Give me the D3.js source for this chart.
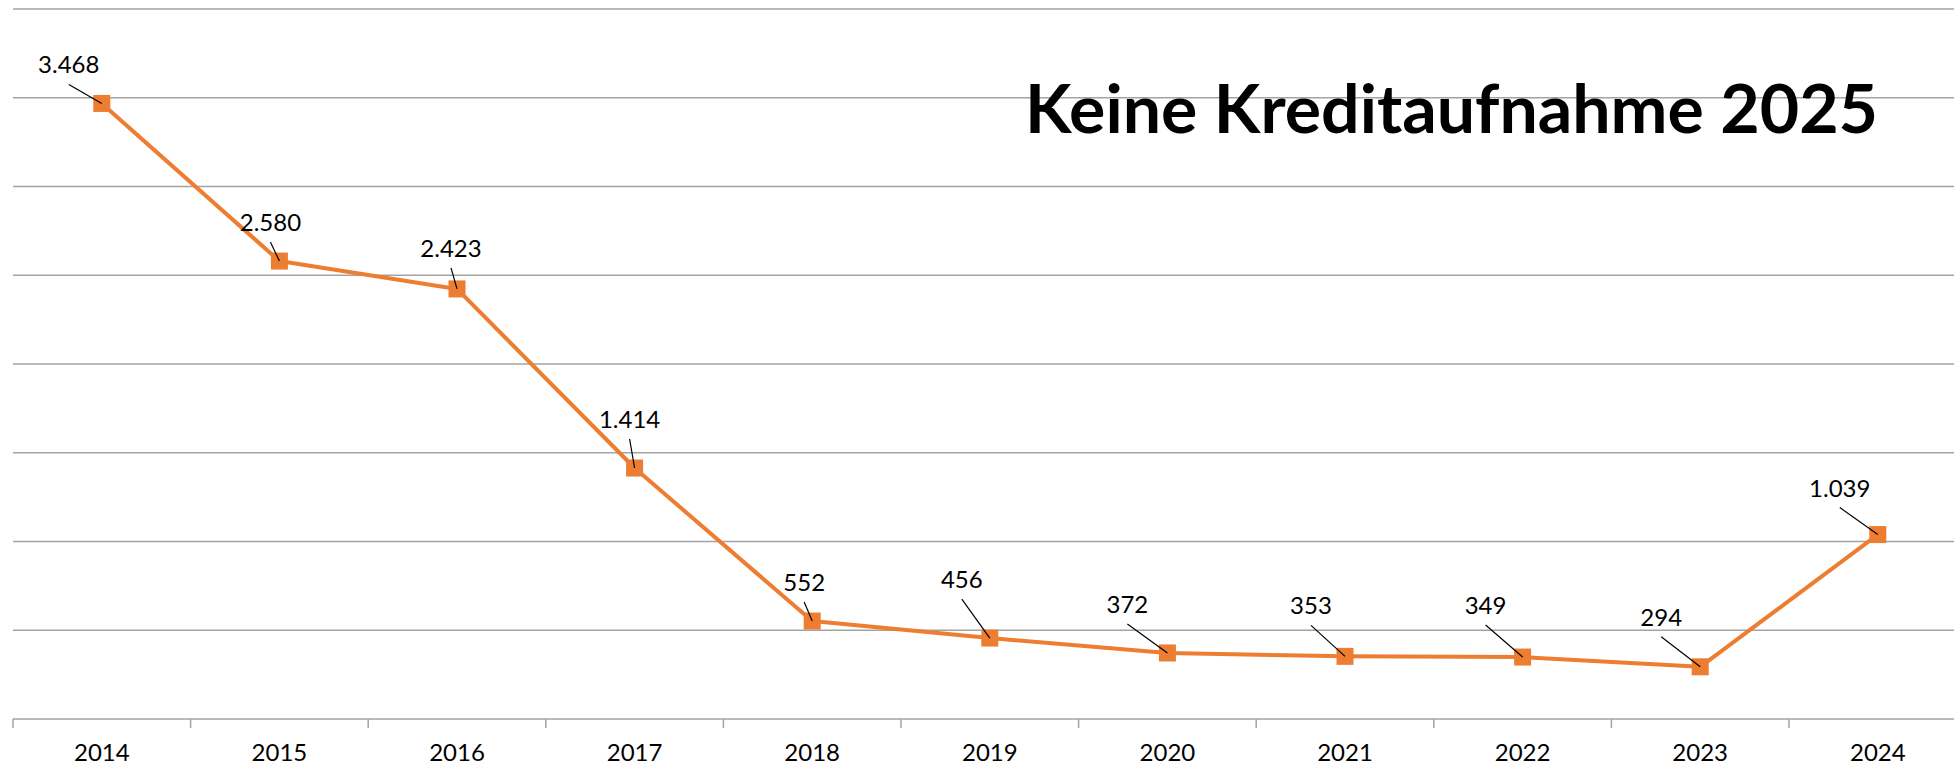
<!DOCTYPE html>
<html>
<head>
<meta charset="utf-8">
<script src="https://cdn.jsdelivr.net/npm/d3@7"></script>
<style>
    html, body { margin: 0; padding: 0; background: #fff; overflow: hidden; }
    svg text { font-family: Lato, "Open Sans", sans-serif; fill: #000; }
</style>
</head>
<body>
<svg id="chart" width="1954" height="767"></svg>
<script>
// chart data
const years = ["2014", "2015", "2016", "2017", "2018", "2019", "2020", "2021", "2022", "2023", "2024"]
const amounts = [3468, 2580, 2423, 1414, 552, 456, 372, 353, 349, 294, 1039]
const amountLabels = ["3.468", "2.580", "2.423", "1.414", "552", "456", "372", "353", "349", "294", "1.039"]
const gridTicks = [0, 500, 1000, 1500, 2000, 2500, 3000, 3500, 4000]
const titleText = "Keine Kreditaufnahme 2025"

// label placement relative to its point (dx, dy of text baseline centre)
const labelShift = [[-33, -30], [-9, -30], [-6, -32], [-5, -40], [-8, -30], [-28, -50],
    [-40, -40], [-34, -42], [-37, -43], [-39, -41], [-38, -38]]

const ORANGE = "#ED7D31",
    GRID = "#a3a3a3"

let svg = d3.select("#chart"),
    xAxis = d3.scaleBand()
        .domain(years)
        .range([13, 13 + 177.6 * years.length])
        .padding(0),
    yAxis = d3.scaleLinear()
        .domain([0, 4000])
        .range([719, 9]),
    xCenter = year => xAxis(year) + xAxis.bandwidth() / 2,
    points = years.map((year, i) => ({year: year, value: amounts[i], label: amountLabels[i], shift: labelShift[i]}))

// horizontal grid lines
svg.append("g")
    .selectAll("line")
    .data(gridTicks)
    .join("line")
    .attr("x1", 13)
    .attr("x2", 1954)
    .attr("y1", d => yAxis(d))
    .attr("y2", d => yAxis(d))
    .style("stroke", GRID)
    .style("stroke-width", 1.5)

// category axis with ticks between categories
let axisGroup = svg.append("g")
    .attr("transform", `translate(0, ${yAxis(0)})`)
    .call(d3.axisBottom(xAxis).tickSize(0).tickPadding(0))

axisGroup.select(".domain").remove()
axisGroup.selectAll(".tick text")
    .attr("y", 42)
    .attr("dy", 0)
    .style("font-size", "24px")
    .style("font-family", "Lato, sans-serif")
    .style("fill", "#000")

svg.append("g")
    .selectAll("line")
    .data(years)
    .join("line")
    .attr("x1", d => xAxis(d))
    .attr("x2", d => xAxis(d))
    .attr("y1", yAxis(0))
    .attr("y2", yAxis(0) + 9)
    .style("stroke", GRID)
    .style("stroke-width", 1.5)

// title
svg.append("text")
    .attr("id", "title")
    .text(titleText)
    .attr("x", 1025)
    .attr("y", 133)
    .style("font-size", "66px")
    .style("font-weight", "bold")

let title = document.getElementById("title"),
    titleWidth = title.getComputedTextLength()
if (titleWidth > 0) d3.select(title).attr("textLength", 853).attr("lengthAdjust", "spacingAndGlyphs")

// the series line
let line = d3.line()
    .x(d => xCenter(d.year))
    .y(d => yAxis(d.value))

svg.append("path")
    .datum(points)
    .attr("fill", "none")
    .attr("stroke", ORANGE)
    .attr("stroke-width", 4)
    .attr("stroke-linejoin", "round")
    .attr("d", line)

// square markers
svg.append("g")
    .selectAll("rect")
    .data(points)
    .join("rect")
    .attr("x", d => xCenter(d.year) - 8.5)
    .attr("y", d => yAxis(d.value) - 8.5)
    .attr("width", 17)
    .attr("height", 17)
    .attr("fill", ORANGE)

// data labels with leader lines
svg.append("g")
    .selectAll("line")
    .data(points)
    .join("line")
    .attr("x1", d => xCenter(d.year) + d.shift[0])
    .attr("y1", d => yAxis(d.value) + d.shift[1] + 11)
    .attr("x2", d => xCenter(d.year))
    .attr("y2", d => yAxis(d.value))
    .style("stroke", "#000")
    .style("stroke-width", 1.2)

svg.append("g")
    .selectAll("text")
    .data(points)
    .join("text")
    .text(d => d.label)
    .attr("x", d => xCenter(d.year) + d.shift[0])
    .attr("y", d => yAxis(d.value) + d.shift[1])
    .attr("text-anchor", "middle")
    .style("font-size", "24px")
</script>
</body>
</html>
